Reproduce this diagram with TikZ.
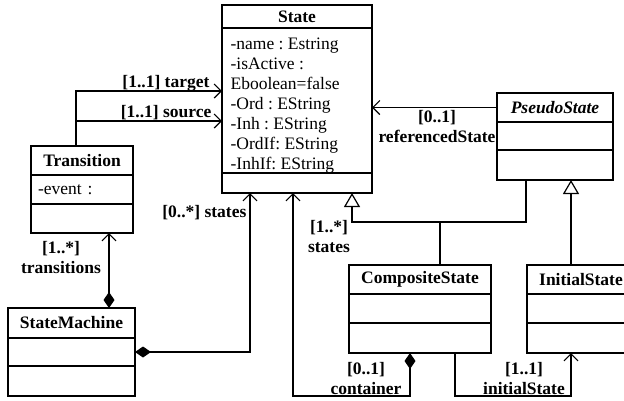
\documentclass[tikz,border=0pt]{standalone}
\usepackage{fontspec}
\setmainfont{Liberation Serif}
\usetikzlibrary{arrows.meta,positioning,calc}

\newcommand\umlsize{\fontsize{17.5pt}{20pt}\selectfont\frenchspacing}

\begin{document}
\begin{tikzpicture}[
  x=1pt, y=-1pt,
  line width=1.2pt,
  font=\umlsize,
  head/.style={draw, outer sep=0pt, inner sep=0pt, anchor=north west,
    font=\umlsize\bfseries},
  part/.style={draw, outer sep=0pt, inner xsep=7pt, inner ysep=0pt, align=left},
  attrs/.style={inner sep=0pt, anchor=north west, align=left},
  lbl/.style={inner sep=0pt, align=center, font=\umlsize\bfseries},
  assoc/.style={-{Straight Barb[length=7pt,width=14pt]}},
  comp/.style={{Diamond[length=16pt,width=11pt]}-{Straight Barb[length=7pt,width=14pt]}},
  gen/.style={-{Triangle[open,length=14pt,width=16pt,fill=white]}}
]
\useasboundingbox (0,0) rectangle (624,400);
\clip (0,0) rectangle (624,400);

% classes
\node[head, minimum width=150pt, minimum height=23pt] (state) at (222,5) {State};
\node[part, below=0pt of state, minimum width=150pt, minimum height=145pt] (state-attr) {};
\node[part, below=0pt of state-attr, minimum width=150pt, minimum height=20pt] (state-ops) {};
\node[attrs] (state-list) at ($(state-attr.north west)+(8,9)$)
  {-name : Estring\\-isActive :\\Eboolean=false\\-Ord : EString\\-Inh : EString\\-OrdIf: EString\\-InhIf: EString};

\node[head, minimum width=102pt, minimum height=29pt] (trans) at (31,146) {Transition};
\node[part, below=0pt of trans, text width=88pt, minimum height=29pt] (trans-attr) {-event :};
\node[part, below=0pt of trans-attr, minimum width=102pt, minimum height=29pt] (trans-ops) {};

\node[head, minimum width=127pt, minimum height=30pt] (sm) at (8,308) {StateMachine};
\node[part, below=0pt of sm, minimum width=127pt, minimum height=28pt] (sm-attr) {};
\node[part, below=0pt of sm-attr, minimum width=127pt, minimum height=30pt] (sm-ops) {};

\node[head, minimum width=116pt, minimum height=29pt, font=\umlsize\bfseries\itshape] (pseudo) at (497,93) {PseudoState};
\node[part, below=0pt of pseudo, minimum width=116pt, minimum height=28pt] (pseudo-attr) {};
\node[part, below=0pt of pseudo-attr, minimum width=116pt, minimum height=30pt] (pseudo-ops) {};

\node[head, minimum width=142pt, minimum height=29pt] (comp) at (349,265) {CompositeState};
\node[part, below=0pt of comp, minimum width=142pt, minimum height=29pt] (comp-attr) {};
\node[part, below=0pt of comp-attr, minimum width=142pt, minimum height=30pt] (comp-ops) {};

\node[head, minimum width=108pt, minimum height=29pt] (init) at (527,265) {InitialState};
\node[part, below=0pt of init, minimum width=108pt, minimum height=29pt] (init-attr) {};
\node[part, below=0pt of init-attr, minimum width=108pt, minimum height=30pt] (init-ops) {};

% associations
\coordinate (src) at ($(trans.north west)+(45,-25)$);
\draw[assoc] ($(trans.north west)+(45,0)$) |- ($(state-attr.north west)+(0,63)$);
\draw[assoc] (src) -- (src -| state-attr.west);
\draw[assoc] (pseudo.west) -- (pseudo.west -| state-attr.east);
\draw[comp] ($(sm.north west)+(101,0)$) -- ($(trans-ops.south west)+(78,0)$);
\draw[comp] (sm-attr.east) -| ($(state-ops.south west)+(28,0)$);
\draw[comp] ($(comp-ops.south west)+(61,0)$) -- ++(0,43) -| ($(state-ops.south west)+(71,0)$);
\draw[assoc] ($(comp-ops.south west)+(106,0)$) -- ++(0,43) -| ($(init-ops.south west)+(44,0)$);

% generalisations
\draw ($(comp.north west)+(91,0)$) -- ++(0,-43);
\draw[gen] ($(pseudo-ops.south west)+(29,0)$) -- ++(0,42) -| ($(state-ops.south west)+(130,0)$);
\draw[gen] ($(init.north west)+(44,0)$) -- ($(pseudo-ops.south west)+(74,0)$);

% role names
\node[lbl, anchor=south east] at ($(state-attr.north west)+(-12,64)$) {[1..1] target};
\node[lbl, anchor=south east] at ($(src)+(136,-1)$) {[1..1] source};
\node[lbl, anchor=north] at ($(pseudo.west)+(-60,2)$) {[0..1]\\referencedState};
\node[lbl, anchor=north] at ($(trans-ops.south west)+(30,8)$) {[1..*]\\transitions};
\node[lbl, anchor=east] at ($(state-ops.south west)+(25,20)$) {[0..*] states};
\node[lbl, anchor=north] at ($(state-ops.south west)+(107,27)$) {[1..*]\\states};
\node[lbl, anchor=north] at ($(comp-ops.south west)+(17,9)$) {[0..1]\\container};
\node[lbl, anchor=north] at ($(init-ops.south west)+(-3,9)$) {[1..1]\\initialState};
\end{tikzpicture}
\end{document}
